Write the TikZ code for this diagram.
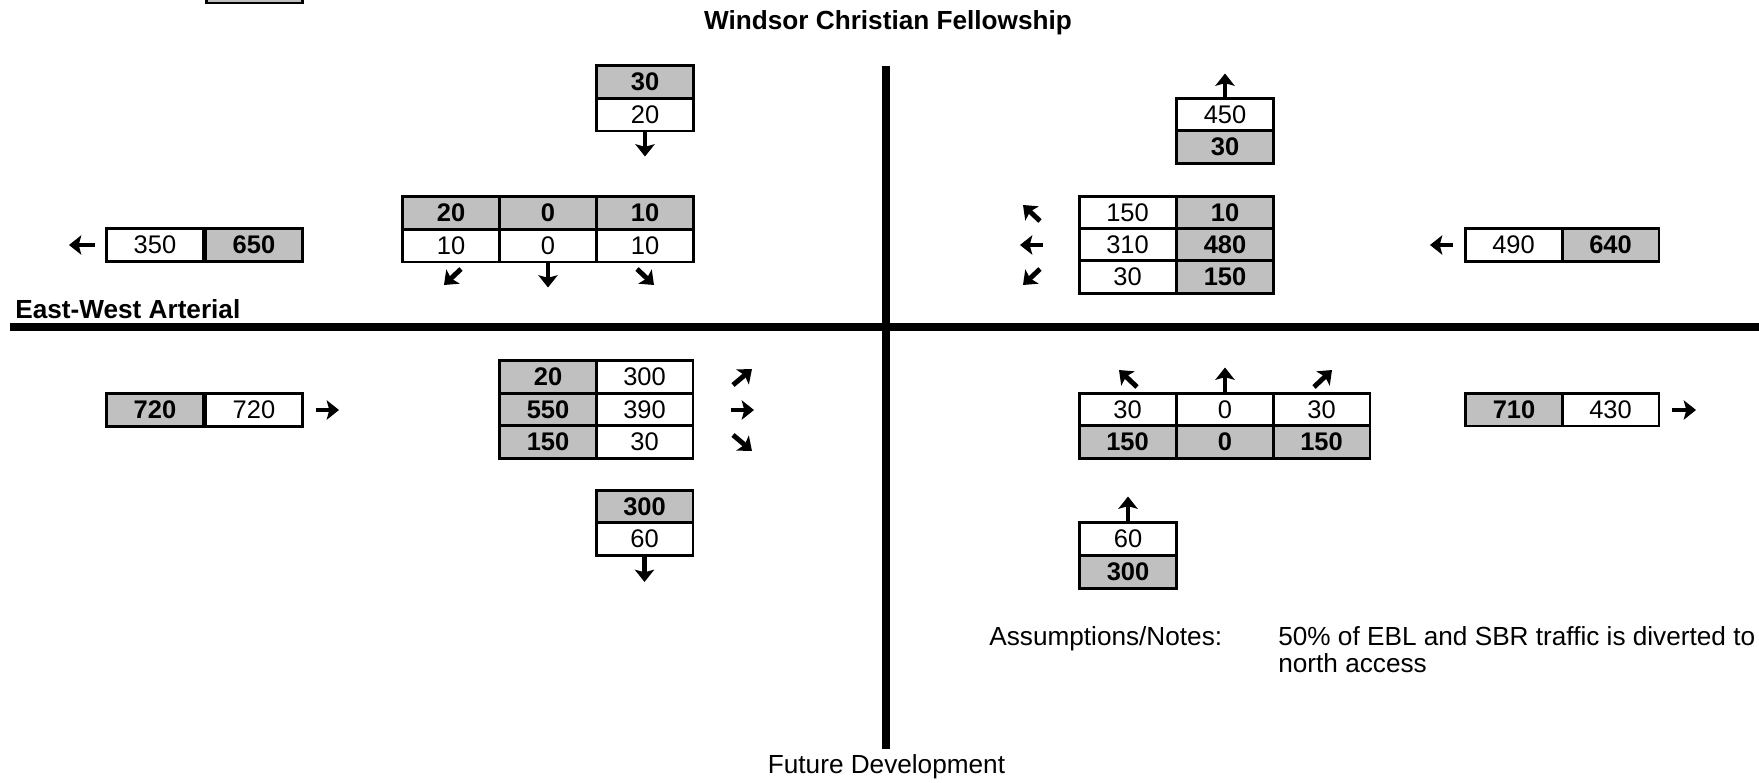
\documentclass[tikz,border=0pt]{standalone}
\usepackage{fontspec}
\setmainfont{Liberation Sans}
\usetikzlibrary{arrows.meta}
\definecolor{cellgray}{RGB}{192,192,192}

\begin{document}
\begin{tikzpicture}[x=0.02cm, y=-0.02cm,
  cell/.style={draw, line width=1.7pt, minimum width=1.94cm, minimum height=0.66cm,
    inner sep=0pt, font=\fontsize{14.5}{16}\selectfont},
  wc/.style={cell, fill=white},
  gc/.style={cell, fill=cellgray, font=\fontsize{14.5}{16}\selectfont\bfseries},
  dir/.style={line width=2.8pt, -{Stealth[length=7pt, width=11pt, inset=1.5pt]}},
  road/.style={line width=4.6pt},
  lbl/.style={inner sep=0pt, font=\fontsize{14.9}{17}\selectfont},
  hdr/.style={inner sep=0pt, font=\fontsize{14.9}{17}\selectfont\bfseries}]
\useasboundingbox (0,0) rectangle (1759,782);
\coordinate (RW) at (10,327) ;
\coordinate (RE) at (1775,327) ;
\coordinate (RN) at (886,66) ;
\coordinate (RS) at (886,749) ;
\draw[road] (RW) -- (RE) ;
\draw[road] (RN) -- (RS) ;
\node[hdr, anchor=base] (title) at (888,29) {Windsor Christian Fellowship};
\node[hdr, anchor=base west] (ew) at (15,318) {East-West Arterial};
\node[lbl, anchor=base] (fd) at (886.5,773) {Future Development};
\node[lbl, anchor=base west] (an) at (989,645) {Assumptions/Notes:};
\node[lbl, anchor=base west] (nt) at (1278,645) {50\% of EBL and SBR traffic is diverted to};
\node[lbl, anchor=base west] (nt2) at (1278,672) {north access};
\node[gc] (X) at (254.5,-13.5) {};
\node[gc] (N1) at (645,82) {30};
\node[wc] (N2) at (645,114.5) {20};
\draw[dir] (N2.south) -- ++(0,24) ;
\node[wc] (W1) at (155,245) {350};
\node[gc] (W2) at (254,245) {650};
\draw[dir] (95,245) -- (69,245) ;
\node[gc] (A1) at (451,212.5) {20};
\node[gc] (A2) at (548,212.5) {0};
\node[gc] (A3) at (645,212.5) {10};
\node[wc] (A4) at (451,245.5) {10};
\node[wc] (A5) at (548,245.5) {0};
\node[wc] (A6) at (645,245.5) {10};
\draw[dir] (461,269) -- (444,285) ;
\draw[dir] (A5.south) -- ++(0,24) ;
\draw[dir] (637,269) -- (654,285) ;
\node[wc] (B1) at (1225,114.5) {450};
\node[gc] (B2) at (1225,147) {30};
\draw[dir] (B1.north) -- ++(0,-23) ;
\node[wc] (C1) at (1127.5,213) {150};
\node[gc] (C2) at (1225,213) {10};
\node[wc] (C3) at (1127.5,245) {310};
\node[gc] (C4) at (1225,245) {480};
\node[wc] (C5) at (1127.5,277) {30};
\node[gc] (C6) at (1225,277) {150};
\draw[dir] (1040,221) -- (1023,205) ;
\draw[dir] (1043,245) -- (1020,245) ;
\draw[dir] (1040,269) -- (1023,285) ;
\node[wc] (D1) at (1513.5,245) {490};
\node[gc] (D2) at (1610.5,245) {640};
\draw[dir] (1453,245) -- (1430,245) ;
\node[gc] (E1) at (155,410) {720};
\node[wc] (E2) at (254,410) {720};
\draw[dir] (316,410) -- (339,410) ;
\node[gc] (F1) at (548,377) {20};
\node[wc] (F2) at (644.5,377) {300};
\node[gc] (F3) at (548,409.5) {550};
\node[wc] (F4) at (644.5,409.5) {390};
\node[gc] (F5) at (548,442) {150};
\node[wc] (F6) at (644.5,442) {30};
\draw[dir] (733,385) -- (752,369) ;
\draw[dir] (731,410) -- (754,410) ;
\draw[dir] (733,435) -- (752,451) ;
\node[gc] (G1) at (644.5,506.5) {300};
\node[wc] (G2) at (644.5,539) {60};
\draw[dir] (G2.south) -- ++(0,25) ;
\node[wc] (H1) at (1127.5,409.5) {30};
\node[wc] (H2) at (1225,409.5) {0};
\node[wc] (H3) at (1321.5,409.5) {30};
\node[gc] (H4) at (1127.5,442) {150};
\node[gc] (H5) at (1225,442) {0};
\node[gc] (H6) at (1321.5,442) {150};
\draw[dir] (1137,387) -- (1119,370) ;
\draw[dir] (H2.north) -- ++(0,-24) ;
\draw[dir] (1314,387) -- (1332,370) ;
\node[gc] (J1) at (1514,409.5) {710};
\node[wc] (J2) at (1610.5,409.5) {430};
\draw[dir] (1672,410) -- (1696,410) ;
\node[wc] (K1) at (1128,538.5) {60};
\node[gc] (K2) at (1128,571.5) {300};
\draw[dir] (K1.north) -- ++(0,-24) ;
\end{tikzpicture}
\end{document}
